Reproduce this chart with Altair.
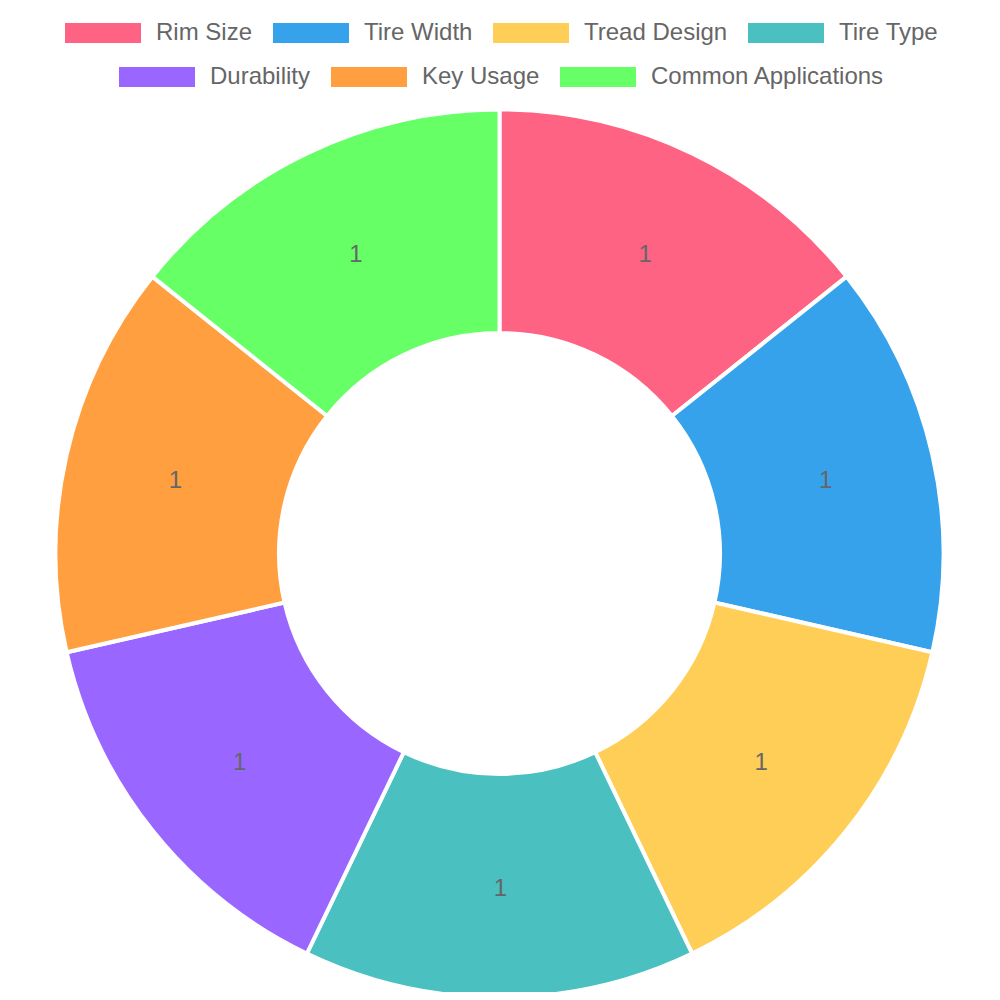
import math
import altair as alt
import pandas as pd

categories = ["Rim Size", "Tire Width", "Tread Design", "Tire Type",
              "Durability", "Key Usage", "Common Applications"]
values = [1, 1, 1, 1, 1, 1, 1]
colors = ["#FF6384", "#36A2EB", "#FFCE56", "#4BC0C0",
          "#9966FF", "#FF9F40", "#66FF66"]

row1 = categories[:4]
row2 = categories[4:]

df = pd.DataFrame({"category": categories, "value": values,
                   "idx": list(range(len(categories)))})
total = sum(values)

FONT = "Liberation Sans"
CX, CY = 491.5, 545.5
R_OUT, R_IN = 444, 220.5

base = alt.Chart(df).transform_window(
    cum="sum(value)", sort=[alt.SortField("idx")], frame=[None, 0]
).transform_calculate(
    start="datum.cum - datum.value",
    mid="datum.cum - datum.value / 2"
)

theta_scale = alt.Scale(domain=[0, total], range=[0, 2 * math.pi])


def make_legend(x, y, pad):
    return alt.Legend(
        orient="none", legendX=x, legendY=y, direction="horizontal",
        title=None, symbolType="M-1,-0.263H1V0.263H-1Z", symbolSize=5776,
        symbolStrokeWidth=0, labelFont=FONT, labelFontSize=24,
        labelColor="#666666", labelOffset=15, columnPadding=pad,
        padding=0, labelLimit=0, symbolOpacity=1,
    )


def arc_layer(subset, cols, lx, ly, pad):
    return base.transform_filter(
        alt.FieldOneOfPredicate(field="category", oneOf=subset)
    ).mark_arc(innerRadius=R_IN, outerRadius=R_OUT, stroke="white",
               strokeWidth=4).encode(
        theta=alt.Theta("start:Q", stack=None, scale=theta_scale),
        theta2="cum:Q",
        color=alt.Color("category:N",
                        scale=alt.Scale(domain=subset, range=cols),
                        sort=subset, legend=make_legend(lx, ly, pad)),
        x=alt.value(CX), y=alt.value(CY),
    )


arc1 = arc_layer(row1, colors[:4], 57, -13, 20)
arc2 = arc_layer(row2, colors[4:], 111, 31, 20)

labels = base.mark_text(radius=333.5, fontSize=24, dx=1, dy=2,
                        color="#666666", font=FONT, align="center",
                        baseline="middle").encode(
    theta=alt.Theta("mid:Q", stack=None, scale=theta_scale),
    text=alt.Text("value:Q"),
    x=alt.value(CX), y=alt.value(CY),
)

chart = alt.layer(arc1, arc2, labels).resolve_scale(
    color="independent"
).properties(
    width=984, height=984,
    autosize=alt.AutoSizeParams(type="none"),
    padding=0, background="white",
).configure_view(stroke=None)

chart.save("out.html", embed_options={"renderer": "svg", "actions": False})
